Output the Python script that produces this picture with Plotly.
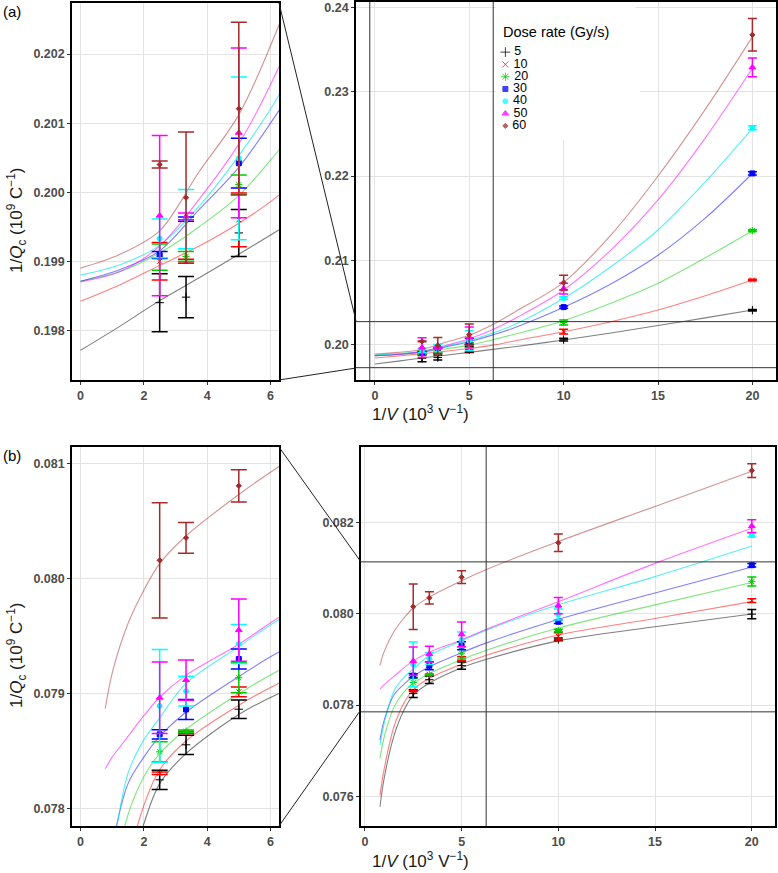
import plotly.graph_objects as go

W, H = 778, 873

dose_rates = [5, 10, 20, 30, 40, 50, 60]
inv_voltage = [2.5, 3.333, 5, 10, 20]

# panel (a): measured 1/Qc and error, one row per dose rate
a_means = [
    [0.19840, 0.19848, 0.19941, 0.20060, 0.20410],
    [0.19900, 0.19900, 0.19960, 0.20155, 0.20767],
    [0.19906, 0.19907, 0.20011, 0.20264, 0.21352],
    [0.19909, 0.19961, 0.20042, 0.20446, 0.22031],
    [0.19933, 0.19961, 0.20049, 0.20553, 0.22572],
    [0.19966, 0.19965, 0.20086, 0.20665, 0.23288],
    [0.20040, 0.19992, 0.20121, 0.20736, 0.23674],
]
a_errs = [
    [0.00042, 0.00030, 0.00034, 0.00016, 0.00009],
    [0.00027, 0.00003, 0.00039, 0.00028, 0.00008],
    [0.00019, 0.00007, 0.00014, 0.00030, 0.00010],
    [0.00005, 0.00003, 0.00036, 0.00013, 0.00020],
    [0.00028, 0.00043, 0.00118, 0.00015, 0.00024],
    [0.00116, 0.00005, 0.00123, 0.00063, 0.00111],
    [0.00005, 0.00095, 0.00125, 0.00087, 0.00192],
]
# fitted curves
a_fit_x = [0, 1.25, 2.5, 3.75, 5, 6.25, 7.5, 10, 12.5, 15, 17.5, 20]
a_fits = [
    [0.19771, 0.19806, 0.19843, 0.19876, 0.19910, 0.19945, 0.19980, 0.20056, 0.20140, 0.20228, 0.20318, 0.20411],
    [0.19842, 0.19866, 0.19894, 0.19922, 0.19955, 0.19995, 0.20050, 0.20154, 0.20273, 0.20411, 0.20580, 0.20767],
    [0.19871, 0.19885, 0.19912, 0.19950, 0.19995, 0.20060, 0.20130, 0.20285, 0.20491, 0.20728, 0.21030, 0.21352],
    [0.19871, 0.19888, 0.19915, 0.19975, 0.20036, 0.20117, 0.20210, 0.20443, 0.20720, 0.21060, 0.21500, 0.22030],
    [0.19880, 0.19895, 0.19923, 0.19980, 0.20053, 0.20139, 0.20250, 0.20550, 0.20925, 0.21360, 0.21930, 0.22566],
    [0.19870, 0.19885, 0.19922, 0.19990, 0.20070, 0.20180, 0.20320, 0.20649, 0.21122, 0.21716, 0.22450, 0.23277],
    [0.19890, 0.19910, 0.19944, 0.20030, 0.20112, 0.20240, 0.20400, 0.20740, 0.21300, 0.22000, 0.22790, 0.23650],
]

# panel (b)
b_means = [
    [0.078253, 0.078557, 0.078866, 0.079440, 0.079996],
    [0.078310, 0.078665, 0.079017, 0.079509, 0.080292],
    [0.078496, 0.078675, 0.079140, 0.079637, 0.080711],
    [0.078648, 0.078864, 0.079302, 0.079830, 0.081070],
    [0.078895, 0.079023, 0.079432, 0.079990, 0.081730],
    [0.078966, 0.079119, 0.079553, 0.080183, 0.081927],
    [0.080159, 0.080354, 0.080806, 0.081563, 0.083147],
]
b_errs = [
    [0.000084, 0.000084, 0.000080, 0.000030, 0.000100],
    [0.000010, 0.000010, 0.000043, 0.000080, 0.000040],
    [0.000087, 0.000010, 0.000130, 0.000030, 0.000100],
    [0.000040, 0.000087, 0.000087, 0.000040, 0.000040],
    [0.000490, 0.000130, 0.000170, 0.000120, 0.000040],
    [0.000310, 0.000174, 0.000270, 0.000180, 0.000140],
    [0.000500, 0.000133, 0.000140, 0.000190, 0.000150],
]
b_fit_x = [0.78, 1.0, 1.5, 2.0, 2.5, 3.33, 5, 6.25, 10, 15, 20]
b_fits = [
    [0.07577, 0.07640, 0.07732, 0.07787, 0.07822, 0.07848, 0.07882, 0.07900, 0.07941, 0.07972, 0.08000],
    [0.07602, 0.07660, 0.07752, 0.07803, 0.07834, 0.07859, 0.07890, 0.07909, 0.07954, 0.07990, 0.08027],
    [0.07683, 0.07730, 0.07795, 0.07828, 0.07848, 0.07869, 0.07900, 0.07920, 0.07969, 0.08020, 0.08069],
    [0.07723, 0.07767, 0.07822, 0.07845, 0.07863, 0.07884, 0.07915, 0.07936, 0.07988, 0.08046, 0.08103],
    [0.07712, 0.07760, 0.07831, 0.07860, 0.07879, 0.07909, 0.07941, 0.07964, 0.08020, 0.08082, 0.08149],
    [0.07835, 0.07845, 0.07863, 0.07881, 0.07897, 0.07916, 0.07943, 0.07966, 0.08027, 0.08111, 0.08188],
    [0.07887, 0.07918, 0.07961, 0.07990, 0.08013, 0.08037, 0.08073, 0.08097, 0.08159, 0.08236, 0.08313],
]

point_colors = ["#000000", "#ff0000", "#00cd00", "#0000ff", "#00ffff", "#ff00ff", "#a52a2a"]
line_colors = ["rgba(0,0,0,0.5)", "rgba(255,0,0,0.5)", "rgba(0,205,0,0.5)", "rgba(0,0,255,0.5)",
               "rgba(0,230,230,0.65)", "rgba(255,0,255,0.55)", "rgba(165,42,42,0.5)"]
symbols = ["cross-thin-open", "x-thin-open", "asterisk-open", "square", "circle", "triangle-up", "diamond"]
sizes = [6, 5, 6, 5, 5, 6, 4]

# zoom windows (inset ranges)
zoom_x = [-0.27, 6.27]
a_zoom_y = [0.19728, 0.20274]
b_zoom_y = [0.077852, 0.081143]


def px_x(a, b):
    return [a / W, b / W]


def px_y(top, bottom):
    return [1 - bottom / H, 1 - top / H]


fig = go.Figure()

panels = [
    ("x", "y", a_fit_x, a_fits, a_means, a_errs, 8),
    ("x2", "y2", a_fit_x, a_fits, a_means, a_errs, 4.5),
    ("x3", "y3", b_fit_x, b_fits, b_means, b_errs, 8),
    ("x4", "y4", b_fit_x, b_fits, b_means, b_errs, 4.5),
]
for xa, ya, fx, fits, means, errs, capw in panels:
    for i in range(len(dose_rates)):
        fig.add_trace(go.Scatter(
            x=fx, y=fits[i], mode="lines",
            line=dict(color=line_colors[i], width=1.1, shape="spline", smoothing=0.9),
            xaxis=xa, yaxis=ya, showlegend=False, hoverinfo="skip"))
    for i, d in enumerate(dose_rates):
        fig.add_trace(go.Scatter(
            x=inv_voltage, y=means[i], mode="markers", name=str(d),
            marker=dict(symbol=symbols[i], size=sizes[i], color=point_colors[i],
                        line=dict(color=point_colors[i], width=1)),
            error_y=dict(type="data", array=errs[i], color=point_colors[i],
                         thickness=1.5, width=capw),
            xaxis=xa, yaxis=ya, showlegend=False))

# legend keys drawn on a hidden helper axis
fig.add_trace(go.Scatter(
    x=[0] * len(dose_rates), y=list(range(len(dose_rates))), mode="markers+text",
    text=[" " + str(d) for d in dose_rates], textposition="middle right",
    textfont=dict(size=12.5, color="black", family="Liberation Sans, Arial"),
    marker=dict(symbol=symbols, size=[7, 6, 7, 5, 5, 6, 4], color=point_colors,
                opacity=0.75, line=dict(color=point_colors, width=1)),
    xaxis="x5", yaxis="y5", showlegend=False, hoverinfo="skip"))

tick_font = dict(family="Liberation Sans, Arial", size=12.5, color="#4d4d4d", weight="bold")
axis_common = dict(showline=True, linecolor="black", linewidth=1.6, mirror=True,
                   showgrid=True, gridcolor="#e3e3e3", gridwidth=0.8, zeroline=False,
                   ticks="outside", ticklen=3, tickcolor="#333333", tickfont=tick_font)

fig.update_layout(
    width=W, height=H, margin=dict(l=0, r=0, t=0, b=0),
    plot_bgcolor="white", paper_bgcolor="white", showlegend=False,
    xaxis=dict(domain=px_x(72, 279), range=zoom_x, tickvals=[0, 2, 4, 6], anchor="y", **axis_common),
    yaxis=dict(domain=px_y(3, 380), range=a_zoom_y, tickvals=[0.198, 0.199, 0.200, 0.201, 0.202],
               tickformat=".3f", anchor="x", **axis_common),
    xaxis2=dict(domain=px_x(356, 776), range=[-1.0, 21.25], tickvals=[0, 5, 10, 15, 20], anchor="y2", **axis_common),
    yaxis2=dict(domain=px_y(2, 380), range=[0.19582, 0.24063], tickvals=[0.20, 0.21, 0.22, 0.23, 0.24],
                tickformat=".2f", anchor="x2", **axis_common),
    xaxis3=dict(domain=px_x(72, 279), range=zoom_x, tickvals=[0, 2, 4, 6], anchor="y3", **axis_common),
    yaxis3=dict(domain=px_y(447, 826), range=b_zoom_y, tickvals=[0.078, 0.079, 0.080, 0.081],
                tickformat=".3f", anchor="x3", **axis_common),
    xaxis4=dict(domain=px_x(361, 775), range=[-0.2, 21.2], tickvals=[0, 5, 10, 15, 20], anchor="y4", **axis_common),
    yaxis4=dict(domain=px_y(447, 826), range=[0.075347, 0.083664], tickvals=[0.076, 0.078, 0.080, 0.082],
                tickformat=".3f", anchor="x4", **axis_common),
    xaxis5=dict(domain=px_x(500, 640), range=[-0.04, 1], visible=False, anchor="y5", fixedrange=True),
    yaxis5=dict(domain=px_y(46, 132), range=[6.5, -0.5], visible=False, anchor="x5", fixedrange=True),
)

shapes = []
# white legend background inside panel (a) main
shapes.append(dict(type="rect", xref="x2", yref="y2", x0=6.4, x1=13.8, y0=0.2243, y1=0.2410,
                   fillcolor="white", line=dict(width=0), layer="between"))
# zoom rectangles in the main panels
for xa, ya, zy in [("x2", "y2", a_zoom_y), ("x4", "y4", b_zoom_y)]:
    for xv in zoom_x:
        shapes.append(dict(type="line", xref=xa, yref=ya + " domain", x0=xv, x1=xv, y0=0, y1=1,
                           line=dict(color="#333333", width=1)))
    for yv in zy:
        shapes.append(dict(type="line", xref=xa + " domain", yref=ya, x0=0, x1=1, y0=yv, y1=yv,
                           line=dict(color="#333333", width=1)))
# connecting lines between inset and zoom window
for (x0, y0, x1, y1) in [(279, 3, 356, 321), (279, 380, 356, 368), (279, 447, 361, 562), (279, 826, 360, 711)]:
    shapes.append(dict(type="line", xref="paper", yref="paper", x0=x0 / W, x1=x1 / W,
                       y0=1 - y0 / H, y1=1 - y1 / H, line=dict(color="#222222", width=1)))
fig.update_layout(shapes=shapes)

title_font = dict(family="Liberation Sans, Arial", size=17, color="#1a1a1a")
ylab = "1/<i>Q</i><sub>c</sub> (10<sup>9</sup> C<sup>\u22121</sup>)"
xlab = "1/<i>V</i> (10<sup>3</sup> V<sup>\u22121</sup>)"
annotations = [
    dict(text="(a)", x=1 / W, y=1 - 12 / H, xref="paper", yref="paper", xanchor="left", yanchor="middle",
         showarrow=False, font=dict(family="Liberation Sans, Arial", size=15, color="black")),
    dict(text="(b)", x=1 / W, y=1 - 455 / H, xref="paper", yref="paper", xanchor="left", yanchor="middle",
         showarrow=False, font=dict(family="Liberation Sans, Arial", size=15, color="black")),
    dict(text=ylab, x=16 / W, y=1 - 220 / H, xref="paper", yref="paper", textangle=-90,
         xanchor="center", yanchor="middle", showarrow=False, font=title_font),
    dict(text=ylab, x=16 / W, y=1 - 655 / H, xref="paper", yref="paper", textangle=-90,
         xanchor="center", yanchor="middle", showarrow=False, font=title_font),
    dict(text=xlab, x=421 / W, y=1 - 413 / H, xref="paper", yref="paper",
         xanchor="center", yanchor="middle", showarrow=False, font=title_font),
    dict(text=xlab, x=421 / W, y=1 - 860 / H, xref="paper", yref="paper",
         xanchor="center", yanchor="middle", showarrow=False, font=title_font),
    dict(text="Dose rate (Gy/s)", x=501 / W, y=1 - 32 / H, xref="paper", yref="paper",
         xanchor="left", yanchor="middle", showarrow=False,
         font=dict(family="Liberation Sans, Arial", size=14.5, color="black")),
]
fig.update_layout(annotations=annotations)

fig.write_html("out.html", config={"displayModeBar": False},
               post_script="document.body.style.margin='0px';")
